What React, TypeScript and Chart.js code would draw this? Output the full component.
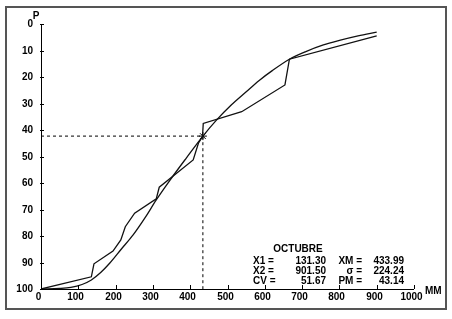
import React, { useEffect, useRef } from "react";
import { Chart, registerables } from "chart.js";

Chart.register(...registerables);

// Smooth (theoretical) curve: precipitation MM vs probability P
const smoothX = [0, 50, 80, 110, 135, 160, 184, 215, 247, 280, 309, 346, 390, 433, 471, 510, 551, 585, 620, 666, 710, 757, 800, 850, 900];
const smoothP = [100, 99.8, 99.4, 98.3, 96.6, 93.8, 90.3, 85, 79.6, 72.9, 66.4, 58.9, 50.5, 42.5, 36.2, 30.6, 25.5, 21.3, 17.6, 13.3, 10.4, 7.9, 6.2, 4.5, 3.1];

// Observed (empirical) polyline
const obsX = [0, 135, 142, 193, 214, 226, 251, 309, 317, 408, 422, 433, 435, 538, 654, 666, 900];
const obsP = [100, 95.4, 90.5, 85.7, 81.5, 76.5, 71.4, 66, 61.6, 51.3, 45, 42.5, 37.5, 33.1, 23, 13.3, 4.5];

// Reference point (mean)
const meanX = 434;
const meanP = 42.3;

const xTicks = [0, 100, 200, 300, 400, 500, 600, 700, 800, 900, 1000];
const yTicks = [0, 10, 20, 30, 40, 50, 60, 70, 80, 90, 100];

const title = "OCTUBRE";
const statsLeftLabels = ["X1 =", "X2 =", "CV ="];
const statsLeftValues = ["131.30", "901.50", "51.67"];
const statsRightLabels = ["XM =", "σ =", "PM ="];
const statsRightValues = ["433.99", "224.24", "43.14"];

const FONT = "bold 10px 'Liberation Sans', Arial, sans-serif";

const axesPlugin = {
  id: "customAxes",
  afterDraw(chart: any) {
    const { ctx, chartArea, scales } = chart;
    const xs = scales.x;
    const ys = scales.y;
    const left = chartArea.left;
    const bottom = chartArea.bottom;
    ctx.save();
    ctx.strokeStyle = "#000";
    ctx.fillStyle = "#000";
    ctx.lineWidth = 1;
    // axis lines
    ctx.beginPath();
    ctx.moveTo(left + 0.5, ys.getPixelForValue(0));
    ctx.lineTo(left + 0.5, bottom + 0.5);
    ctx.lineTo(xs.getPixelForValue(1000), bottom + 0.5);
    ctx.stroke();
    // y ticks
    ctx.font = FONT;
    ctx.textAlign = "right";
    ctx.textBaseline = "middle";
    yTicks.forEach((v) => {
      const py = Math.round(ys.getPixelForValue(v)) + 0.5;
      ctx.beginPath();
      ctx.moveTo(left - 1, py);
      ctx.lineTo(left + 3, py);
      ctx.stroke();
      ctx.fillText(String(v), left - 8, py);
    });
    // x ticks
    ctx.textAlign = "center";
    ctx.textBaseline = "top";
    xTicks.forEach((v) => {
      const px = Math.round(xs.getPixelForValue(v)) + 0.5;
      ctx.beginPath();
      ctx.moveTo(px, bottom - 4);
      ctx.lineTo(px, bottom);
      ctx.stroke();
      ctx.fillText(String(v), px - 3, bottom + 3);
    });
    // axis titles
    ctx.textAlign = "center";
    ctx.textBaseline = "middle";
    ctx.fillText("P", left - 5, ys.getPixelForValue(0) - 8);
    ctx.textAlign = "left";
    ctx.fillText("MM", xs.getPixelForValue(1000) + 11, bottom + 2);

    // stats block
    ctx.textAlign = "center";
    ctx.fillText(title, 298, 249);
    const rows = [261.5, 271.5, 281.5];
    rows.forEach((ry, i) => {
      ctx.textAlign = "left";
      ctx.fillText(statsLeftLabels[i], 253, ry);
      ctx.textAlign = "right";
      ctx.fillText(statsLeftValues[i], 326, ry);
      ctx.fillText(statsRightLabels[i], 362, ry);
      ctx.fillText(statsRightValues[i], 404, ry);
    });
    ctx.restore();
  },
};

export default function App() {
  const ref = useRef<HTMLCanvasElement>(null);
  useEffect(() => {
    if (!ref.current) return;
    const chart = new Chart(ref.current, {
      type: "scatter",
      data: {
        datasets: [
          {
            data: smoothX.map((x, i) => ({ x, y: smoothP[i] })),
            showLine: true,
            borderColor: "#111",
            borderWidth: 1.3,
            pointRadius: 0,
            cubicInterpolationMode: "monotone",
          } as any,
          {
            data: obsX.map((x, i) => ({ x, y: obsP[i] })),
            showLine: true,
            borderColor: "#111",
            borderWidth: 1.3,
            pointRadius: 0,
            tension: 0,
          },
          {
            data: [
              { x: 0, y: meanP },
              { x: meanX, y: meanP },
              { x: meanX, y: 100 },
            ],
            showLine: true,
            borderColor: "#000",
            borderWidth: 1,
            borderDash: [3, 3],
            pointRadius: 0,
          },
          {
            data: [{ x: meanX, y: meanP }],
            showLine: false,
            pointStyle: "star",
            pointRadius: 4,
            borderColor: "#000",
            borderWidth: 1,
            backgroundColor: "#000",
          },
        ],
      },
      options: {
        responsive: false,
        animation: false,
        devicePixelRatio: 1,
        layout: { padding: { left: 41, top: 24, right: 38, bottom: 30 } },
        plugins: { legend: { display: false }, tooltip: { enabled: false } },
        scales: {
          x: { type: "linear", min: 0, max: 1000, display: false },
          y: { type: "linear", min: 0, max: 100, reverse: true, display: false },
        },
      },
      plugins: [axesPlugin],
    });
    return () => chart.destroy();
  }, []);
  return (
    <div style={{ position: "absolute", left: 0, top: 0, width: 452, height: 319, background: "#fff" }}>
      <div
        style={{
          position: "absolute",
          left: 5,
          top: 6,
          width: 442,
          height: 304,
          boxSizing: "border-box",
          border: "2px solid #555",
        }}
      />
      <canvas
        ref={ref}
        width={452}
        height={319}
        style={{ position: "absolute", left: 0, top: 0, width: 452, height: 319 }}
      />
    </div>
  );
}
